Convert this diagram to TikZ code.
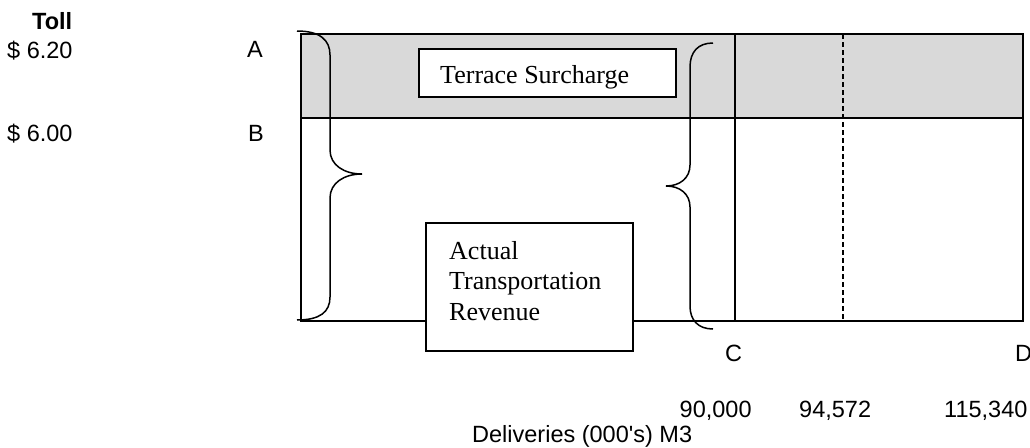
\documentclass[tikz,border=0pt]{standalone}
\usepackage{fontspec}
\newfontfamily\labelsans{Liberation Sans}
\newfontfamily\labelserif{Liberation Serif}
\definecolor{bandgray}{HTML}{D9D9D9}
\tikzset{
  frame/.style={line width=2pt},
  guide/.style={line width=1.6pt, dash pattern=on 5pt off 3pt},
  bracepath/.style={line width=1.5pt},
  labelbox/.style={draw, fill=white, line width=1.7pt, inner sep=0pt},
  sanslabel/.style={font=\labelsans\fontsize{23.5}{28}\selectfont, anchor=base west, inner sep=0pt},
  boldlabel/.style={sanslabel, font=\labelsans\bfseries\fontsize{23.5}{28}\selectfont},
  seriflabel/.style={font=\labelserif\fontsize{26}{30}\selectfont, anchor=base west, inner sep=0pt}
}
\begin{document}
\begin{tikzpicture}[x=1pt,y=-1pt]
\useasboundingbox (0,0) rectangle (1030,447);

% chart corners and grid lines
\coordinate (nw) at (301,34);
\coordinate (se) at (1023,321);
\coordinate (bw) at (301,118);
\coordinate (be) at (1023,118);
\coordinate (ctop) at (735,34);
\coordinate (cbot) at (735,321);
\coordinate (dtop) at (843,34);
\coordinate (dbot) at (843,321);

% surcharge band
\fill[bandgray] (nw) rectangle (be);

\draw[frame] (bw) -- (be);
\draw[frame] (ctop) -- (cbot);
\draw[guide] (dtop) -- (dbot);
\draw[frame] (nw) rectangle (se);

% braces
\draw[bracepath] (297,31) .. controls (320,31) and (330,40) .. (330,55)
  -- (330,150) .. controls (330,165) and (344,174) .. (362,174)
  .. controls (344,174) and (330,183) .. (330,198)
  -- (330,297) .. controls (330,312) and (320,320) .. (297,320);
\draw[bracepath] (713,43) .. controls (698,43) and (690,52) .. (690,67)
  -- (690,165) .. controls (690,178) and (680,186) .. (666,186)
  .. controls (680,186) and (690,194) .. (690,207)
  -- (690,306) .. controls (690,320) and (698,329) .. (713,329);

% boxed captions
\node[labelbox, minimum width=257pt, minimum height=48pt] (surbox) at (547.5,73) {};
\node[seriflabel] (surtext) at (440,83) {Terrace Surcharge};

\node[labelbox, minimum width=207pt, minimum height=128pt] (revbox) at (529.5,287) {};
\node[seriflabel] (rev1) at (449,259) {Actual};
\node[seriflabel] (rev2) at (449,289.5) {Transportation};
\node[seriflabel] (rev3) at (449,320) {Revenue};

% toll axis
\node[boldlabel] (toll) at (32,29) {Toll};
\node[sanslabel] (tollA) at (7,58) {\$ 6.20};
\node[sanslabel] (tollB) at (7,141) {\$ 6.00};
\node[sanslabel] (ptA) at (247,57) {A};
\node[sanslabel] (ptB) at (248,141) {B};
\node[sanslabel] (ptC) at (725,361) {C};
\node[sanslabel] (ptD) at (1015,361) {D};

% deliveries axis
\node[sanslabel] (q1) at (679.5,417) {90,000};
\node[sanslabel] (q2) at (799,417) {94,572};
\node[sanslabel] (q3) at (944,417) {115,340};
\node[sanslabel] (qaxis) at (472,442) {Deliveries (000's) M3};
\end{tikzpicture}
\end{document}
